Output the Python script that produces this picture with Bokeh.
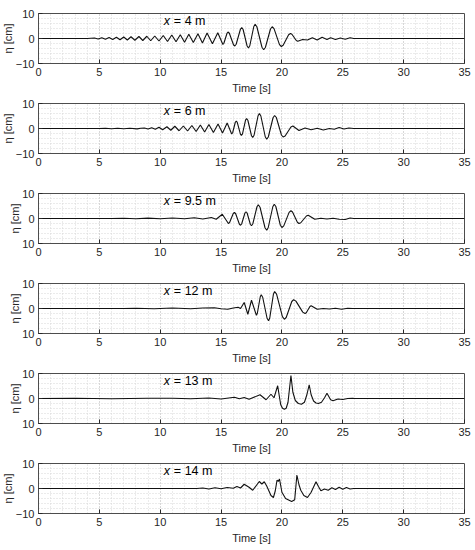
from bokeh.plotting import figure
from bokeh.layouts import column
from bokeh.models import FixedTicker, Title
from bokeh.core.properties import value
from bokeh.embed import file_html
from bokeh.resources import INLINE

# ---------------- data ----------------
x_ticks = [0, 5, 10, 15, 20, 25, 30, 35]
y_ticks = [-10, 0, 10]
gauge_labels = ["= 4 m", "= 6 m", "= 9.5 m", "= 12 m", "= 13 m", "= 14 m"]

t1 = [0, 4.0, 4.6, 4.9, 5.2, 5.5, 5.8, 6.1, 6.4, 6.7, 7.0, 7.3, 7.6, 7.92, 8.25, 8.57, 8.9, 9.22,
      9.55, 9.9, 10.25, 10.6, 10.95, 11.3, 11.65, 12.0, 12.35, 12.72, 13.1, 13.47, 13.85, 14.29,
      14.73, 15.15, 15.23, 15.49, 15.57, 15.68, 16.02, 16.13, 16.24, 16.59, 16.7, 16.81, 17.14,
      17.25, 17.36, 17.69, 17.8, 17.94, 18.36, 18.5, 18.64, 19.06, 19.2, 19.35, 19.8, 19.95,
      20.1, 20.55, 20.7, 20.82, 21.18, 21.3, 21.7, 22.1,
      22.5, 22.9, 23.3, 23.7, 24.0, 24.4, 24.8, 25.2, 25.6, 25.9, 35]
e1 = [0, 0, 0.2, -0.2, 0.3, -0.3, 0.4, -0.4, 0.5, -0.5, 0.6, -0.6, 0.7, -0.7, 0.8, -0.8, 0.9, -0.9,
      1.0, -1.0, 1.2, -1.2, 1.4, -1.3, 1.5, -1.5, 1.7, -1.6, 1.9, -1.8, 2.2, -2.1,
      2.3, -2.4, -1.9, 2.1, 2.6, 2.1, -2.5, -3.0, -2.3, 3.7, 4.4, 3.6, -3.0,
      -3.8, -2.9, 4.8, 5.7, 4.7, -3.5, -4.5, -3.6, 3.8, 4.7, 3.95, -2.45, -3.2,
      -2.7, 1.5, 2.0, 1.7, -0.8, -1.1, -0.4, -0.6,
      0.3, -0.6, 0.5, -0.4, 0.3, -0.4, 0.2, -0.3, 0.3, 0.0, 0]

t2 = [0, 5.0, 5.5, 6.0, 6.5, 7.0, 7.5, 8.1, 8.4, 8.7, 9.0, 9.3, 9.6, 9.9, 10.2, 10.55, 10.87, 11.2,
      11.55, 11.9, 12.25, 12.6, 12.95, 13.3, 13.65, 14.0, 14.37, 14.75, 15.12, 15.5, 15.87,
      15.95, 16.17, 16.25, 16.33, 16.59, 16.67, 16.76, 17.01, 17.1, 17.2, 17.5, 17.6, 17.71,
      18.04, 18.15, 18.27, 18.63, 18.75, 18.88, 19.27, 19.4, 19.54, 19.96, 20.1, 20.26, 20.74,
      20.9, 21.4, 21.9, 22.4, 22.9, 23.4, 23.9, 24.3, 24.7, 25.1, 25.5, 25.9, 35]
e2 = [0, 0, 0.1, -0.1, 0.1, -0.1, 0.1, -0.15, 0.1, 0.2, -0.2, 0.3, -0.3, 0.5, -0.5, 0.7, -0.7, 0.9,
      -0.9, 1.0, -1.0, 1.2, -1.2, 1.4, -1.4, 1.6, -1.6, 1.8, -1.8, 2.2, -2.2,
      -1.7, 2.5, 3.0, 2.45, -2.25, -2.8, -2.15, 3.35, 4.0, 3.3, -2.9, -3.6, -2.7,
      5.1, 6.0, 5.0, -3.3, -4.3, -3.4, 4.3, 5.2, 4.4, -2.6, -3.4, -3.0, 0.6,
      1.0, -0.8, 0.2, -0.5, 0.1, -0.6, 0.0, -0.3, 0.4, -0.2, 0.2, 0.0, 0]

t3 = [0, 6.0, 7.0, 8.0, 9.0, 10.0, 11.0, 12.0, 12.8, 13.5, 14.2, 14.6, 15.1, 15.6, 15.7, 16.0,
      16.1, 16.2, 16.5, 16.6, 16.69, 16.96, 17.05, 17.14, 17.41, 17.5, 17.61, 17.95, 18.06, 18.2,
      18.61, 18.75, 18.87, 19.25, 19.37, 19.5, 19.87, 20.0, 20.15, 20.59, 20.74, 20.87, 21.27,
      21.4, 21.55, 22.01, 22.16, 22.7, 23.2, 23.7, 24.2, 24.7, 25.2, 25.6, 25.9, 35]
e3 = [0, 0, 0.1, -0.1, 0.15, -0.1, 0.2, -0.1, 0.3, -0.2, 0.4, -0.3, 1.7, -2.0, -1.6, 2.0,
      2.4, 1.9, -2.2, -2.7, -2.2, 2.2, 2.7, 2.2, -2.4, -2.9, -2.1, 4.7, 5.5, 4.5,
      -3.7, -4.7, -3.7, 4.7, 5.7, 4.8, -2.7, -3.6, -2.95, 2.45, 3.1, 2.6, -1.5,
      -2.0, -1.7, 1.0, 1.3, -0.3, 0.1, -0.2, 0.1, -0.3, -0.4, 0.2, 0.0, 0]

t4 = [0, 7.0, 8.0, 9.5, 11.0, 12.5, 13.5, 14.45, 15.0, 15.55, 16.0, 16.4, 16.6, 16.9, 17.2, 17.5,
      17.9, 17.98, 18.22, 18.3, 18.42, 18.78, 18.9, 19.0, 19.3, 19.4, 19.56, 20.04, 20.2, 20.35,
      20.81, 20.96, 21.15, 21.71, 21.9, 22.0, 22.3, 22.4, 22.9, 23.4, 23.9, 24.4, 24.9, 25.4,
      25.8, 35]
e4 = [0, 0, 0.1, -0.1, 0.2, -0.1, 0.2, 0.3, -0.1, -0.3, 0.2, 0.5, 0.0, 2.4, -2.3, 3.3,
      -2.7, -1.9, 4.7, 5.5, 4.5, -3.9, -4.9, -3.8, 5.7, 6.8, 5.75, -3.25, -4.3, -3.6,
      2.8, 3.5, 2.95, -1.45, -2.0, -1.7, 0.8, 1.1, -0.3, 0.0, -0.2, 0.1, -0.3, 0.1,
      0.0, 0]

t5 = [0, 3.0, 6.0, 9.0, 11.0, 12.5, 14.0, 15.0, 16.1, 16.5, 16.9, 17.3, 18.2, 18.7, 19.1, 19.35,
      19.65, 19.8, 19.9, 20.05, 20.2, 20.35, 20.5, 20.74, 20.9, 21.1, 21.35, 21.6, 21.85, 22.05,
      22.24, 22.4, 22.6, 22.8, 23.0, 23.25, 23.5, 23.7, 23.85, 24.0, 24.2, 24.6, 25.0, 25.4,
      25.8, 26.0, 35]
e5 = [0, 0.1, -0.1, 0.1, 0.1, -0.1, 0.2, -0.2, 0.5, -0.1, 0.4, -0.3, 1.5, -0.5, 1.7, 0.3,
      5.1, 0.5, -2.5, -3.9, -4.3, -3.9, -1.5, 9.2, 2.5, -0.8, -2.0, -2.3, -1.5, 1.5,
      5.5, 1.5, -1.0, -1.8, -2.0, -1.5, 0.3, 2.1, 0.8, -0.5, -0.9, -0.2, -0.4, 0.0,
      0.1, 0.0, 0]

t6 = [0, 13.0, 13.5, 14.0, 14.5, 15.0, 15.5, 16.0, 16.3, 16.6, 16.9, 17.3, 17.6, 18.14, 18.35,
      18.55, 18.75, 19.1, 19.3, 19.45, 19.6, 19.7, 19.8, 20.0, 20.3, 20.8, 21.05, 21.23, 21.4,
      21.55, 21.8, 22.1, 22.4, 22.8, 23.0, 23.2, 23.5, 23.8, 24.1, 24.4, 24.7, 25.0, 25.3, 25.6,
      25.9, 35]
e6 = [0, 0, 0.2, -0.2, 0.3, -0.1, 0.4, 0.1, 0.8, 0.2, 1.7, 0.5, -0.7, 2.8, 1.8,
      2.7, 1.0, -2.8, -3.6, -1.0, 3.4, 2.8, 3.8, -1.5, -4.0, -5.2, -4.5, 5.4, 1.5,
      -0.7, -2.8, -3.6, -1.5, 2.7, 0.8, -0.9, -0.2, -0.7, 0.3, -0.4, 0.5, -0.3, 0.4, -0.2,
      0.0, 0]

series = [(t1, e1), (t2, e2), (t3, e3), (t4, e4), (t5, e5), (t6, e6)]
neg_label_as_positive = [False, False, True, True, True, False]

# ---------------- drawing ----------------
FONT = "Liberation Sans"
AX = "#262626"


def make_panel(t, eta, label, flip_neg, first):
    p = figure(width=475, height=97 if first else 90, x_range=(0, 35), y_range=(-10, 10),
               output_backend="svg", toolbar_location=None,
               min_border_left=37, min_border_right=11,
               min_border_top=13 if first else 6, min_border_bottom=34)
    p.background_fill_color = "white"
    p.outline_line_color = "#4d4d4d"
    p.outline_line_width = 1

    p.xaxis.ticker = FixedTicker(ticks=x_ticks, minor_ticks=list(range(0, 36)))
    p.yaxis.ticker = FixedTicker(ticks=y_ticks, minor_ticks=[-8, -6, -4, -2, 2, 4, 6, 8])
    p.xaxis.axis_label = "Time [s]"
    if flip_neg:
        p.yaxis.major_label_overrides = {-10: "10"}

    for ax in (p.xaxis, p.yaxis):
        ax.axis_line_color = "#4d4d4d"
        ax.major_tick_in = 4
        ax.major_tick_out = 0
        ax.major_tick_line_color = AX
        ax.minor_tick_line_color = None
        ax.major_label_text_font = FONT
        ax.major_label_text_font_size = "11px"
        ax.major_label_text_color = AX
        ax.axis_label_text_font = FONT
        ax.axis_label_text_font_size = "11px"
        ax.axis_label_text_font_style = "normal"
        ax.axis_label_text_color = AX
    p.xaxis.major_label_standoff = 0
    p.xaxis.axis_label_standoff = 3
    p.yaxis.major_label_standoff = 0

    ylab = Title(text="η [cm]", align="center", standoff=-2, offset=0,
                 text_font=FONT, text_font_size="11px", text_font_style="normal",
                 text_color=AX)
    p.add_layout(ylab, "left")

    for g in (p.xgrid, p.ygrid):
        g.grid_line_color = "#c4c4c4"
        g.grid_line_dash = "1 2"
        g.grid_line_width = 1
        g.minor_grid_line_color = "#d6d6d6"
        g.minor_grid_line_dash = "1 2"
        g.minor_grid_line_width = 1

    p.line(t, eta, line_color="#111111", line_width=1.1)

    p.text(x=[10.3], y=[6.9], text=["x"], text_font=value(FONT), text_font_style="italic",
           text_font_size="12.5px", text_baseline="middle", text_align="left", text_color="black")
    p.text(x=[10.3], y=[6.9], text=[label], text_font=value(FONT), text_font_size="12.5px",
           text_baseline="middle", text_align="left", text_color="black", x_offset=10)
    return p


panels = [make_panel(t, e, lab, fl, i == 0)
          for i, ((t, e), lab, fl) in enumerate(zip(series, gauge_labels, neg_label_as_positive))]
layout = column(*panels, spacing=0)

open("out.html", "w").write(file_html(layout, INLINE))
